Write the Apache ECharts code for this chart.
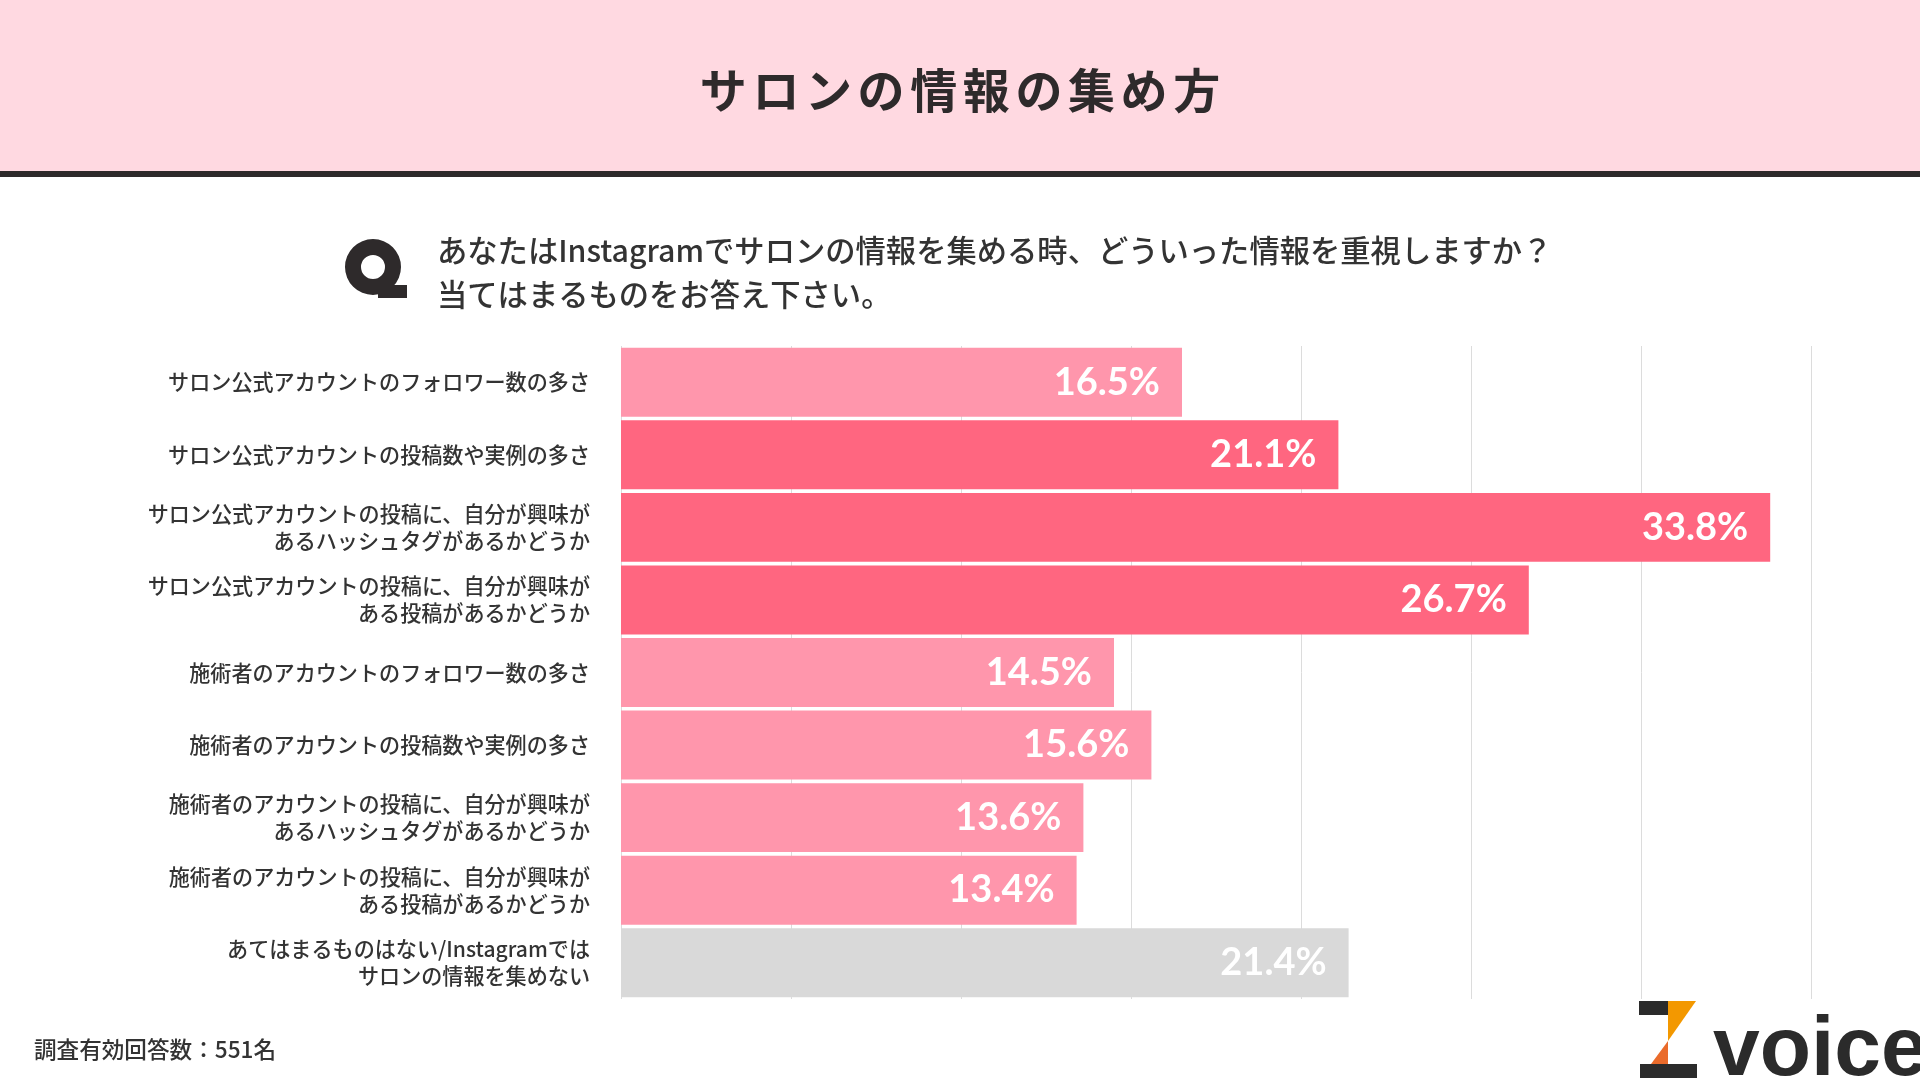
<!DOCTYPE html>
<html>
<head>
<meta charset="utf-8">
<script src="https://cdn.jsdelivr.net/npm/echarts@6/dist/echarts.min.js"></script>
<style>
html,body{margin:0;padding:0;background:#fff;}
#chart{width:1920px;height:1080px;}
</style>
</head>
<body>
<div id="chart"></div>
<script>
const titleText = 'サロンの情報の集め方';
const questionLines = [
  'あなたはInstagramでサロンの情報を集める時、どういった情報を重視しますか？',
  '当てはまるものをお答え下さい。'
];
const categories = [
  'サロン公式アカウントのフォロワー数の多さ',
  'サロン公式アカウントの投稿数や実例の多さ',
  'サロン公式アカウントの投稿に、自分が興味が\nあるハッシュタグがあるかどうか',
  'サロン公式アカウントの投稿に、自分が興味が\nある投稿があるかどうか',
  '施術者のアカウントのフォロワー数の多さ',
  '施術者のアカウントの投稿数や実例の多さ',
  '施術者のアカウントの投稿に、自分が興味が\nあるハッシュタグがあるかどうか',
  '施術者のアカウントの投稿に、自分が興味が\nある投稿があるかどうか',
  'あてはまるものはない/Instagramでは\nサロンの情報を集めない'
];
const values = [16.5, 21.1, 33.8, 26.7, 14.5, 15.6, 13.6, 13.4, 21.4];
const xMin = 0, xMax = 35, xStep = 5;
const footnote = '調査有効回答数：551名';
const logoText = 'voice';

const LIGHT = '#FF96AC', DARK = '#FF6680', GRAY = '#D9D9D9';
const barColors = [LIGHT, DARK, DARK, DARK, LIGHT, LIGHT, LIGHT, LIGHT, GRAY];
const JP = '"Noto Sans CJK JP", "Noto Sans", sans-serif';

const chart = echarts.init(document.getElementById('chart'));

const graphics = [
  { type: 'rect', shape: { x: 0, y: 0, width: 1920, height: 171 }, style: { fill: '#FFD9E1' }, silent: true, z: -10 },
  { type: 'rect', shape: { x: 0, y: 171, width: 1920, height: 6 }, style: { fill: '#2E2A2B' }, silent: true, z: -9 }
];
// title, letter-spaced
const tChars = Array.from(titleText);
const tSpacing = 52.6;
tChars.forEach((c, i) => {
  graphics.push({
    type: 'text', x: 960 + (i - (tChars.length - 1) / 2) * tSpacing, y: 90,
    style: { text: c, fill: '#2E2A2B', font: '700 47px ' + JP, textAlign: 'center', textVerticalAlign: 'middle' }
  });
});
// Q icon
graphics.push({ type: 'ring', shape: { cx: 373, cy: 267, r: 28, r0: 12 }, style: { fill: '#2E2A2B' } });
graphics.push({ type: 'rect', shape: { x: 378, y: 285, width: 29, height: 13 }, style: { fill: '#2E2A2B' } });
// question text
questionLines.forEach((line, i) => {
  graphics.push({
    type: 'text', x: 437, y: 250 + i * 44,
    style: { text: line, fill: '#333', font: '500 30.3px ' + JP, textAlign: 'left', textVerticalAlign: 'middle' }
  });
});
// footnote
graphics.push({
  type: 'text', x: 34, y: 1049,
  style: { text: footnote, fill: '#333', font: '500 22.6px ' + JP, textAlign: 'left', textVerticalAlign: 'middle' }
});
// logo
graphics.push({ type: 'rect', shape: { x: 1639, y: 1001, width: 29, height: 14 }, style: { fill: '#2B2B2B' } });
graphics.push({ type: 'polygon', shape: { points: [[1668, 1001], [1696, 1001], [1668, 1041]] }, style: { fill: '#F39800' } });
graphics.push({ type: 'polygon', shape: { points: [[1668, 1041], [1668, 1064], [1651, 1064]] }, style: { fill: '#EA6B2B' } });
graphics.push({ type: 'rect', shape: { x: 1640, y: 1064, width: 57, height: 14 }, style: { fill: '#2B2B2B' } });
graphics.push({
  type: 'text', x: 1713, y: 1094,
  style: { text: logoText, fill: '#2B2B2B', font: 'bold 84px "Liberation Sans", Arial, sans-serif', textAlign: 'left', textVerticalAlign: 'bottom' }
});

chart.setOption({
  backgroundColor: '#fff',
  animation: false,
  grid: { left: 621, right: 109, top: 346, bottom: 81, containLabel: false },
  xAxis: {
    type: 'value', min: xMin, max: xMax, interval: xStep,
    axisLabel: { show: false }, axisLine: { show: false }, axisTick: { show: false },
    splitLine: { show: true, lineStyle: { color: '#DCDCDC', width: 1 } }
  },
  yAxis: {
    type: 'category', data: categories, inverse: true,
    axisLine: { show: false }, axisTick: { show: false },
    axisLabel: { margin: 31, color: '#333', fontSize: 21.1, fontWeight: 500, lineHeight: 27, fontFamily: JP, align: 'right' }
  },
  series: [{
    type: 'bar',
    data: values.map((v, i) => ({ value: v, itemStyle: { color: barColors[i] } })),
    barCategoryGap: '5%',
    label: {
      show: true, position: 'insideRight', distance: 22,
      formatter: p => p.value.toFixed(1) + '%',
      color: '#fff', fontSize: 38, fontWeight: 'bold', fontFamily: 'Lato, "Noto Sans", sans-serif'
    },
    z: 3
  }],
  graphic: graphics
});
</script>
</body>
</html>
